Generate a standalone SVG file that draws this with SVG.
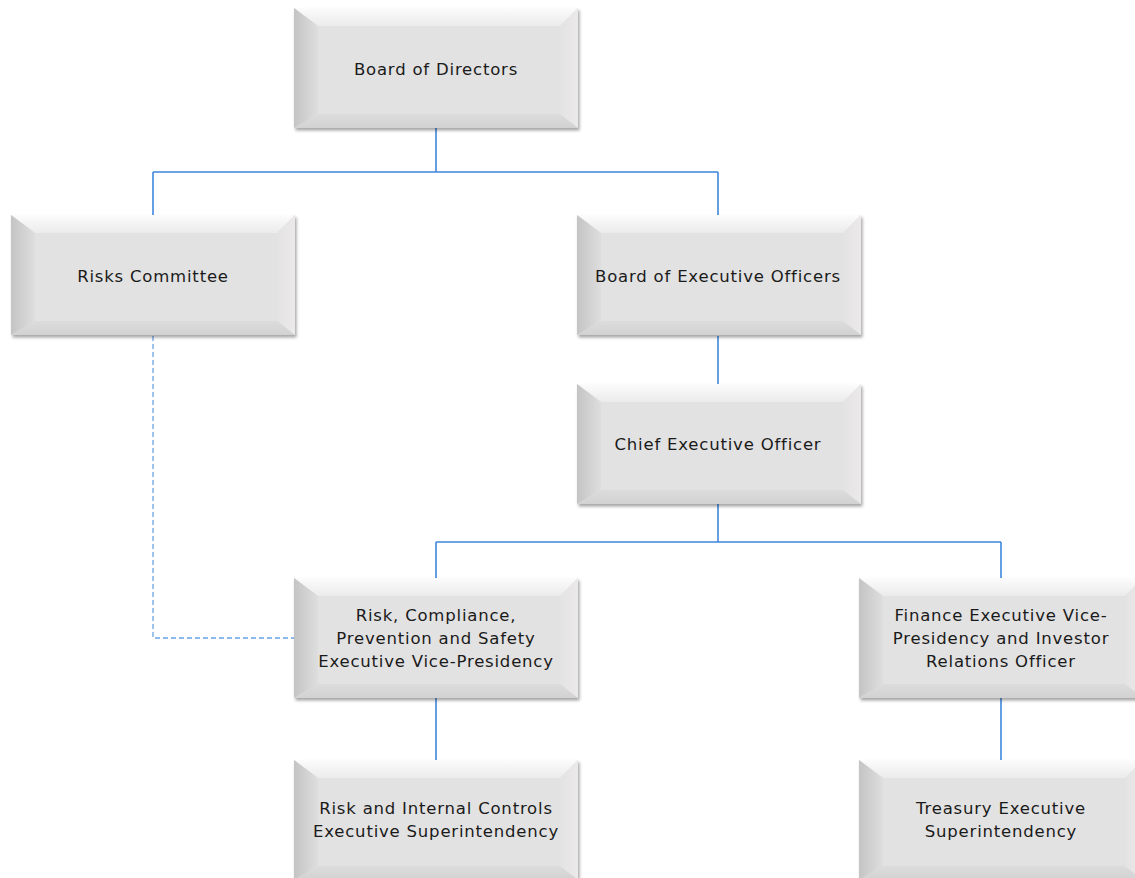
<svg xmlns="http://www.w3.org/2000/svg" width="1135" height="878" viewBox="0 0 1135 878">
<style>
.t{font-family:"DejaVu Sans",Verdana,sans-serif;font-size:16.5px;letter-spacing:0.8px;fill:#1a1a1a;text-anchor:middle}
.c{fill:none;stroke:#3f87dc;stroke-width:1.6}
.d{fill:none;stroke:#6aa3e6;stroke-width:1.3;stroke-dasharray:5 3}
</style>
<defs>
<linearGradient id="gl" x1="0" y1="0" x2="1" y2="0"><stop offset="0" stop-color="#c4c4c4"/><stop offset="1" stop-color="#dedede"/></linearGradient>
<linearGradient id="gt" x1="0" y1="0" x2="0" y2="1"><stop offset="0" stop-color="#fcfcfc"/><stop offset="1" stop-color="#ebebeb"/></linearGradient>
<linearGradient id="gr" x1="0" y1="0" x2="1" y2="0"><stop offset="0" stop-color="#e4e3e3"/><stop offset="1" stop-color="#ebe9e9"/></linearGradient>
<linearGradient id="gb" x1="0" y1="0" x2="0" y2="1"><stop offset="0" stop-color="#dcdcdc"/><stop offset="1" stop-color="#d2d2d2"/></linearGradient>
<filter id="sh" x="-5%" y="-5%" width="115%" height="120%"><feDropShadow dx="1.5" dy="2.5" stdDeviation="1.8" flood-color="#000" flood-opacity="0.35"/></filter>
<symbol id="box" overflow="visible">
<g filter="url(#sh)">
<rect x="0" y="0" width="284" height="120" fill="#e2e2e2"/>
<polygon points="0,0 284,0 266,18 24,18" fill="url(#gt)"/>
<polygon points="0,0 24,18 24,106 0,120" fill="url(#gl)"/>
<polygon points="284,0 284,120 266,106 266,18" fill="url(#gr)"/>
<polygon points="0,120 24,106 266,106 284,120" fill="url(#gb)"/>
<rect x="24" y="18" width="242" height="88" fill="#e2e2e2"/>
</g>
</symbol>
</defs>
<rect width="1135" height="878" fill="#fff"/>
<g id="connectors">
<path class="c" d="M436,128 V172 M153,172 H718 M153,172 V215 M718,172 V215"/>
<path class="c" d="M718,336 V384"/>
<path class="c" d="M718,503 V542 M436,542 H1001 M436,542 V578 M1001,542 V578"/>
<path class="c" d="M436,698 V760 M1001,698 V760"/>
<path class="d" d="M153,336 V638 H294"/>
</g>
<g id="board-of-directors"><use href="#box" x="294" y="8"/><text class="t" x="436" y="75">Board of Directors</text></g>
<g id="risks-committee"><use href="#box" x="11" y="215"/><text class="t" x="153" y="282">Risks Committee</text></g>
<g id="board-of-executive-officers"><use href="#box" x="577" y="215"/><text class="t" x="718" y="282">Board of Executive Officers</text></g>
<g id="ceo"><use href="#box" x="577" y="384"/><text class="t" x="718" y="450">Chief Executive Officer</text></g>
<g id="risk-compliance"><use href="#box" x="294" y="578"/><text class="t" x="436"><tspan x="436" y="621">Risk, Compliance,</tspan><tspan x="436" y="644">Prevention and Safety</tspan><tspan x="436" y="667">Executive Vice-Presidency</tspan></text></g>
<g id="finance"><use href="#box" x="859" y="578"/><text class="t" x="1001"><tspan x="1001" y="621">Finance Executive Vice-</tspan><tspan x="1001" y="644">Presidency and Investor</tspan><tspan x="1001" y="667">Relations Officer</tspan></text></g>
<g id="risk-internal-controls"><use href="#box" x="294" y="760"/><text class="t" x="436"><tspan x="436" y="814">Risk and Internal Controls</tspan><tspan x="436" y="837">Executive Superintendency</tspan></text></g>
<g id="treasury"><use href="#box" x="859" y="760"/><text class="t" x="1001"><tspan x="1001" y="814">Treasury Executive</tspan><tspan x="1001" y="837">Superintendency</tspan></text></g>
</svg>
